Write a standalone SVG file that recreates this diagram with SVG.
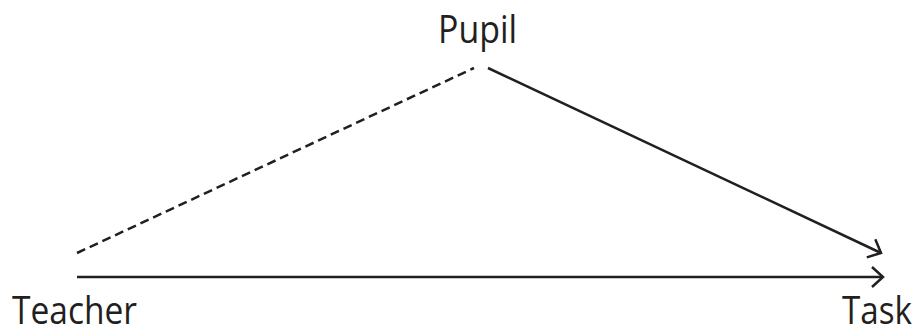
<svg xmlns="http://www.w3.org/2000/svg" width="917" height="330" viewBox="0 0 917 330">
<style>
.lbl{font-family:"Open Sans","Noto Sans","Liberation Sans",sans-serif;font-size:38px;fill:#231f20}
.ln{stroke:#231f20;stroke-width:2.5;fill:none}
</style>
<defs>
<marker id="arr" markerUnits="userSpaceOnUse" markerWidth="30" markerHeight="30" viewBox="-15 -15 30 30" refX="0" refY="0" orient="auto">
<path d="M-11,-10 L0,0 L-11,10" fill="none" stroke="#231f20" stroke-width="2.5"/>
</marker>
</defs>
<rect width="917" height="330" fill="#fff"/>
<g id="connectors">
<line class="ln" x1="77" y1="277" x2="883" y2="277" marker-end="url(#arr)"/>
<line class="ln" x1="77" y1="253" x2="474" y2="68" stroke-dasharray="9,5"/>
<line class="ln" x1="488" y1="68" x2="881" y2="253" marker-end="url(#arr)"/>
</g>
<g id="teacher"><text class="lbl" x="12" y="324" textLength="125" lengthAdjust="spacingAndGlyphs">Teacher</text></g>
<g id="task"><text class="lbl" x="842" y="324" textLength="70" lengthAdjust="spacingAndGlyphs">Task</text></g>
<g id="pupil"><text class="lbl" x="438" y="43" textLength="79" lengthAdjust="spacingAndGlyphs">Pupil</text></g>
</svg>
